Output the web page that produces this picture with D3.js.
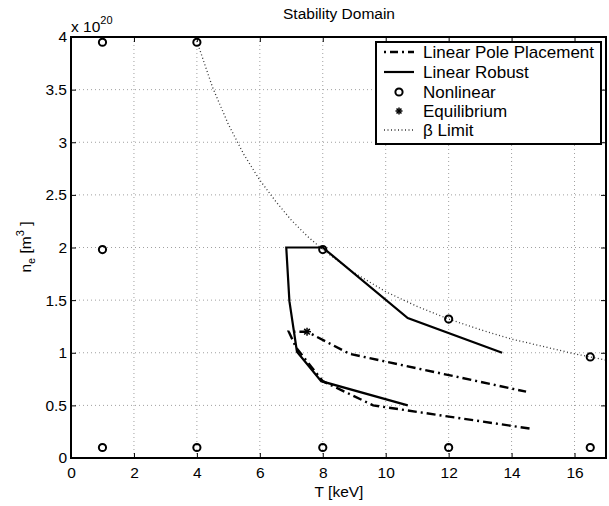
<!DOCTYPE html>
<html>
<head>
<meta charset="utf-8">
<script src="https://cdn.jsdelivr.net/npm/d3@7"></script>
<style>
  body { margin: 0; background: #fff; }
  text { font-family: "Liberation Sans", Arial, sans-serif; fill: #000; }
</style>
</head>
<body>
<script>
// values (n_e in units of 1e20)
const xTicks = [0, 2, 4, 6, 8, 10, 12, 14, 16];
const yTicks = [0, 0.5, 1, 1.5, 2, 2.5, 3, 3.5, 4];

const polePlacement = [
  [14.57, 0.28], [9.6, 0.5], [8.0, 0.73], [7.15, 1.05], [6.92, 1.2],
  [7.5, 1.2], [8.85, 0.99], [14.46, 0.63]
];
const robust = [
  [10.7, 0.5], [7.95, 0.73], [7.18, 1.01], [6.94, 1.49], [6.84, 2.0],
  [8.0, 2.0], [10.7, 1.33], [13.7, 1.0]
];
const nonlinear = [
  [1, 3.95], [4, 3.95], [1, 1.98], [8, 1.98], [12, 1.32], [16.5, 0.96],
  [1, 0.1], [4, 0.1], [8, 0.1], [12, 0.1], [16.5, 0.1]
];
const equilibrium = [[7.5, 1.2]];
const betaLimit = [
  [4, 3.96], [4.5, 3.52], [5, 3.17], [5.5, 2.88], [6, 2.64], [6.5, 2.44],
  [7, 2.26], [7.5, 2.11], [8, 1.98], [9, 1.76], [10, 1.58], [11, 1.44],
  [12, 1.32], [13, 1.22], [14, 1.13], [15, 1.06], [16, 0.99], [17, 0.93]
];
const legendLabels = ['Linear Pole Placement', 'Linear Robust', 'Nonlinear', 'Equilibrium', '\u03b2 Limit'];

const W = 609, H = 506;
const pL = 71, pR = 606, pT = 37, pB = 458;
const fs = 15.5;

const svg = d3.select('body').append('svg').attr('width', W).attr('height', H);

const x = d3.scaleLinear().domain([0, 17]).range([pL, pR]);
const y = d3.scaleLinear().domain([0, 4]).range([pB, pT]);

// grid
const grid = svg.append('g');
grid.selectAll('.gx').data(xTicks.filter(d => d > 0)).enter().append('line')
  .attr('x1', d => x(d)).attr('x2', d => x(d)).attr('y1', pT).attr('y2', pB)
  .attr('stroke', '#a0a0a0').attr('stroke-width', 1).attr('stroke-dasharray', '1,3');
grid.selectAll('.gy').data(yTicks.filter(d => d > 0 && d < 4)).enter().append('line')
  .attr('y1', d => y(d)).attr('y2', d => y(d)).attr('x1', pL).attr('x2', pR)
  .attr('stroke', '#a0a0a0').attr('stroke-width', 1).attr('stroke-dasharray', '1,3');

// axes (ticks inside, on all four sides)
const tickLen = 5;
svg.append('g').attr('transform', `translate(0,${pB})`)
  .call(d3.axisBottom(x).tickValues(xTicks).tickSize(-tickLen).tickPadding(9))
  .call(g => g.select('.domain').remove());
svg.append('g').attr('transform', `translate(0,${pT})`)
  .call(d3.axisTop(x).tickValues(xTicks).tickSize(-tickLen).tickFormat(''))
  .call(g => g.select('.domain').remove());
svg.append('g').attr('transform', `translate(${pL},0)`)
  .call(d3.axisLeft(y).tickValues(yTicks).tickSize(-tickLen).tickPadding(4).tickFormat(d3.format('')))
  .call(g => g.select('.domain').remove());
svg.append('g').attr('transform', `translate(${pR},0)`)
  .call(d3.axisRight(y).tickValues(yTicks).tickSize(-tickLen).tickFormat(''))
  .call(g => g.select('.domain').remove());
svg.selectAll('.tick line').attr('stroke', '#000').attr('stroke-width', 1);
svg.selectAll('.tick text').attr('font-size', fs).attr('font-family', '"Liberation Sans", Arial, sans-serif');

const line = d3.line().x(d => x(d[0])).y(d => y(d[1]));

// beta limit
svg.append('path').datum(betaLimit).attr('d', line)
  .attr('fill', 'none').attr('stroke', '#333').attr('stroke-width', 1.3).attr('stroke-dasharray', '1,2.5');

// linear pole placement
svg.append('path').datum(polePlacement).attr('d', line)
  .attr('fill', 'none').attr('stroke', '#000').attr('stroke-width', 2.4).attr('stroke-dasharray', '9,4,2,4');

// linear robust
svg.append('path').datum(robust).attr('d', line)
  .attr('fill', 'none').attr('stroke', '#000').attr('stroke-width', 2.2).attr('stroke-linejoin', 'miter');

// nonlinear markers
svg.selectAll('.nl').data(nonlinear).enter().append('circle')
  .attr('cx', d => x(d[0])).attr('cy', d => y(d[1])).attr('r', 3.6)
  .attr('fill', 'none').attr('stroke', '#000').attr('stroke-width', 2);

// asterisk marker
function star(g, cx, cy, s) {
  const a = [[-s, 0, s, 0], [0, -s, 0, s], [-s * 0.7, -s * 0.7, s * 0.7, s * 0.7], [-s * 0.7, s * 0.7, s * 0.7, -s * 0.7]];
  a.forEach(l => g.append('line')
    .attr('x1', cx + l[0]).attr('y1', cy + l[1]).attr('x2', cx + l[2]).attr('y2', cy + l[3])
    .attr('stroke', '#000').attr('stroke-width', 1.5));
}
equilibrium.forEach(d => star(svg, x(d[0]), y(d[1]), 4));

// box
svg.append('rect').attr('x', pL).attr('y', pT).attr('width', pR - pL).attr('height', pB - pT)
  .attr('fill', 'none').attr('stroke', '#000').attr('stroke-width', 2);

// labels
svg.append('text').attr('x', 339).attr('y', 19).attr('text-anchor', 'middle').attr('font-size', fs)
  .text('Stability Domain');
svg.append('text').attr('x', 339).attr('y', 497).attr('text-anchor', 'middle').attr('font-size', fs)
  .text('T [keV]');
const yl = svg.append('text').attr('transform', 'translate(31,247) rotate(-90)')
  .attr('text-anchor', 'middle').attr('font-size', fs);
yl.append('tspan').text('n');
yl.append('tspan').attr('dy', 4).attr('font-size', 11).text('e');
yl.append('tspan').attr('dy', -4).text(' [m');
yl.append('tspan').attr('dy', -7).attr('font-size', 11).text('3');
yl.append('tspan').attr('dy', 7).text(' ]');
const ex = svg.append('text').attr('x', 71).attr('y', 32).attr('font-size', fs);
ex.append('tspan').text('x 10');
ex.append('tspan').attr('dy', -8).attr('font-size', 11).text('20');

// legend
const lg = svg.append('g');
lg.append('rect').attr('x', 376).attr('y', 42).attr('width', 225).attr('height', 102)
  .attr('fill', '#fff').attr('stroke', '#000').attr('stroke-width', 2);
const rows = [52, 72, 92, 111, 130];
legendLabels.forEach((t, i) => {
  lg.append('text').attr('x', 423).attr('y', rows[i] + 6).attr('font-size', 17).text(t);
});
lg.append('line').attr('x1', 384).attr('x2', 414).attr('y1', rows[0]).attr('y2', rows[0])
  .attr('stroke', '#000').attr('stroke-width', 2.4).attr('stroke-dasharray', '2,4,8,4');
lg.append('line').attr('x1', 384).attr('x2', 414).attr('y1', rows[1]).attr('y2', rows[1])
  .attr('stroke', '#000').attr('stroke-width', 2.2);
lg.append('circle').attr('cx', 399).attr('cy', rows[2]).attr('r', 3.6)
  .attr('fill', 'none').attr('stroke', '#000').attr('stroke-width', 2);
star(lg, 399, rows[3], 3.5);
lg.append('line').attr('x1', 384).attr('x2', 414).attr('y1', rows[4]).attr('y2', rows[4])
  .attr('stroke', '#333').attr('stroke-width', 1.3).attr('stroke-dasharray', '1,2.5');
</script>
</body>
</html>
